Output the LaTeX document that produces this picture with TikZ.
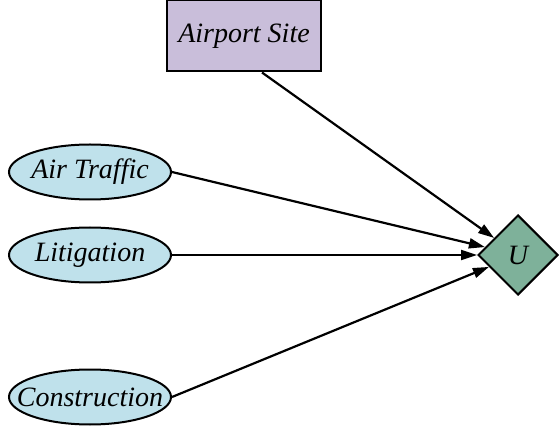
\documentclass[tikz,border=0pt]{standalone}
\usepackage{fontspec}
\setmainfont{Liberation Serif}
\usetikzlibrary{arrows.meta,positioning,shapes.geometric}
\usepackage{xcolor}
\definecolor{sitepurple}{HTML}{C9BEDA}
\definecolor{chanceblue}{HTML}{BFE1EB}
\definecolor{utilgreen}{HTML}{7EB19A}
\tikzset{
  basenode/.style={draw=black, line width=2pt, inner sep=0pt, font=\fontsize{28}{33}\selectfont\itshape},
  decisionbox/.style={basenode, rectangle, fill=sitepurple, minimum width=154pt, minimum height=71pt},
  chancenode/.style={basenode, ellipse, fill=chanceblue, inner xsep=-16pt, minimum width=162pt, minimum height=55pt},
  utilitynode/.style={basenode, diamond, fill=utilgreen, minimum width=80pt, minimum height=80pt},
  arrow/.style={-{Triangle[length=16pt,width=10pt]}, line width=2.2pt, draw=black}
}

\begin{document}
\begin{tikzpicture}[x=1pt, y=-1pt]
  \useasboundingbox (0,0) rectangle (559,427);

  % decision and chance nodes
  \node[decisionbox] (site) at (244,36) {Airport Site};
  \node[chancenode] (traffic) at (90,172) {Air Traffic};
  \node[chancenode] (litigation) at (90,255) {Litigation};
  \node[chancenode] (construction) at (90,397) {Construction};

  % utility node
  \node[utilitynode] (u) at (518,255) {U};

  % arrows into the utility
  \draw[arrow] ([xshift=18pt]site.south) -- (u);
  \draw[arrow] (traffic.east) -- (u);
  \draw[arrow] (litigation.east) -- (u);
  \draw[arrow] (construction.east) -- (u);
\end{tikzpicture}
\end{document}
